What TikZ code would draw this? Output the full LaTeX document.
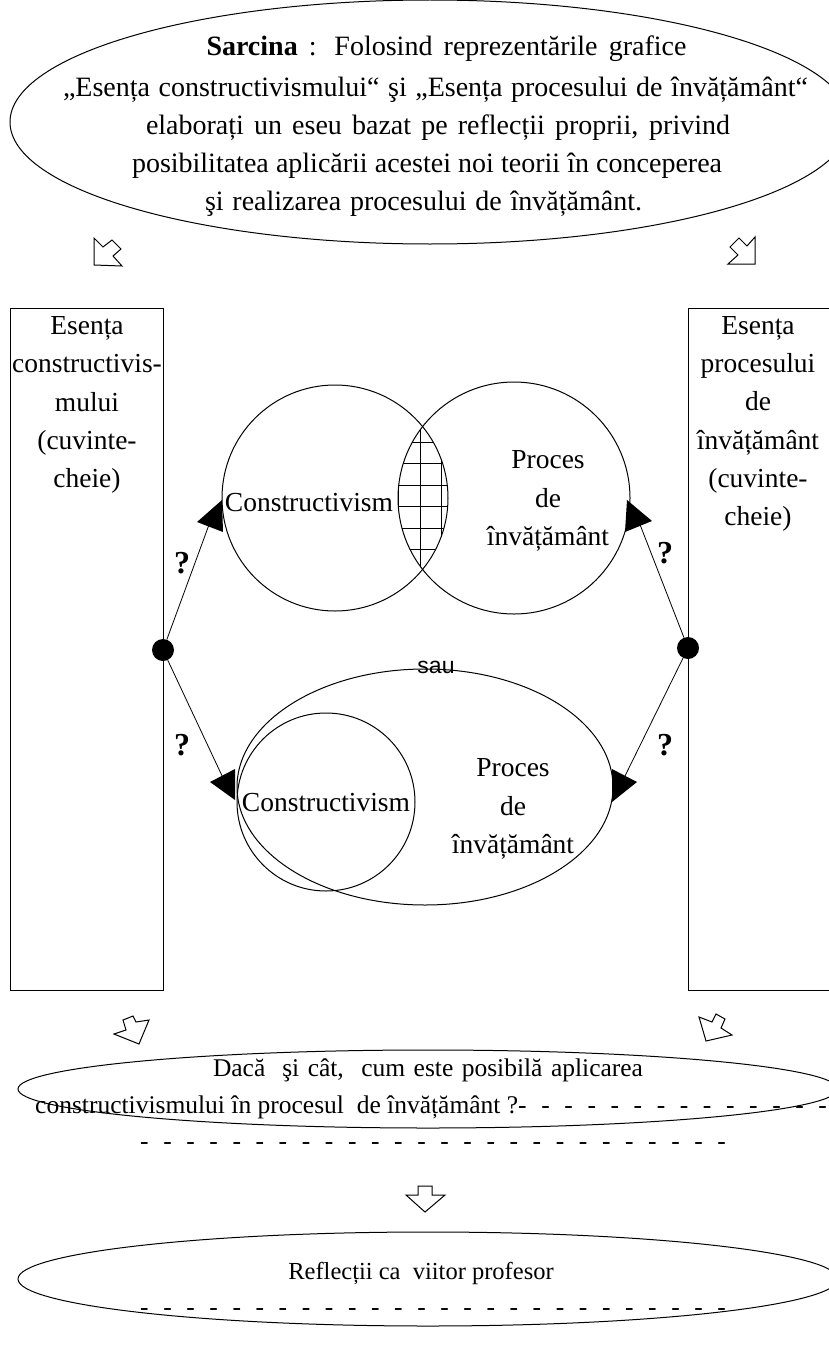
\documentclass[tikz,border=0pt]{standalone}
\usepackage{fontspec}
\setmainfont{Liberation Serif}
\newfontfamily\sansf{Liberation Sans}
\usetikzlibrary{shapes.geometric}
\newcommand\dd{-\hspace{14.6pt}}
\newcommand\fitline[2]{\makebox[#1][s]{#2}}
\begin{document}
\begin{tikzpicture}[x=1pt,y=-1pt,
 shp/.style={draw, line width=1pt, inner sep=0pt},
 ell/.style={shp, ellipse},
 txt/.style={font=\fontsize{27.5}{38.3}\selectfont, inner sep=0pt, align=center},
 ltxt/.style={font=\fontsize{25.5}{36}\selectfont, inner sep=0pt, anchor=base},
 ttxt/.style={font=\fontsize{28}{38}\selectfont, inner sep=0pt, anchor=base},
 holl/.style={line width=1pt, line join=miter, fill=white},
 qm/.style={font=\fontsize{32}{32}\selectfont\bfseries, inner sep=0pt},
 dotnode/.style={circle, fill=black, minimum size=22pt, inner sep=0pt},
 head/.style={fill=black},
 conn/.style={line width=0.8pt}]
\useasboundingbox (0,0) rectangle (829,1354);
\clip (0,0) rectangle (829,1354);

% top task ellipse
\node[ell, minimum width=840pt, minimum height=244pt] (task) at (430,122) {};
\node[ttxt] (t1) at (446.5,56) {\fitline{480pt}{\textbf{Sarcina} : Folosind reprezentările grafice}};
\node[ttxt] (t2) at (435.5,96) {\fitline{745pt}{„Esența constructivismului“ şi „Esența procesului de învățământ“}};
\node[ttxt] (t3) at (438,134) {\fitline{584pt}{elaborați un eseu bazat pe reflecții proprii, privind}};
\node[ttxt] (t4) at (427,172) {\fitline{590pt}{posibilitatea aplicării acestei noi teorii în conceperea}};
\node[ttxt] (t5) at (423.5,210) {\fitline{437pt}{şi realizarea procesului de învățământ.}};

% hollow arrows (top)
\draw[holl] (94,238) -- (103,247) -- (112,240) -- (121,249) -- (113,256) -- (122,266) -- (94,265) -- cycle;
\draw[holl] (755,237) -- (747,246) -- (739,238) -- (730,247) -- (738,255) -- (728,264) -- (755,264) -- cycle;

% side rectangles
\node[shp, minimum width=153pt, minimum height=682pt] (lrect) at (86.5,649) {};
\node[shp, minimum width=141pt, minimum height=682pt] (rrect) at (758.5,649) {};
\node[txt] (ltxt) at (87,405) {Esența\\constructivis-\\mului\\(cuvinte-\\cheie)};
\node[txt] (rtxt) at (758,424) {Esența\\procesului\\de\\învățământ\\(cuvinte-\\cheie)};

% upper Venn: intersecting circles
\begin{scope}
 \clip (335,498) circle (113pt);
 \clip (514,498) circle (116pt);
 \foreach \x in {398.5,420,441.5} \draw[line width=0.8pt] (\x,380) -- (\x,620);
 \foreach \y in {420.5,442,463.5,485,506.5,528,549.5,571} \draw[line width=0.8pt] (380,\y) -- (470,\y);
\end{scope}
\node[shp, circle, minimum size=226pt] (cl) at (335,498) {};
\node[shp, circle, minimum size=232pt] (cr) at (514,498) {};
\node[txt] (clt) at (309,503) {Constructivism};
\node[txt] (crt) at (548,501) {Proces\\de\\învățământ};

\node[font=\sansf\fontsize{23}{23}\selectfont, inner sep=0pt] (sau) at (436,667) {sau};

% lower Venn: nested
\node[ell, minimum width=376pt, minimum height=236pt] (outer) at (425,787) {};
\node[shp, circle, minimum size=178pt] (inner) at (326,802) {};
\node[txt] (innert) at (326,803) {Constructivism};
\node[txt] (outert) at (513,809) {Proces\\de\\învățământ};

% dots and connectors
\node[dotnode] (dl) at (163,650) {};
\node[dotnode] (dr) at (688,648) {};
\coordinate (a1) at (210,522);
\coordinate (a2) at (639,522);
\coordinate (a3) at (224,780);
\coordinate (a4) at (623,780);
\draw[conn] (dl) -- (a1);
\draw[conn] (dr) -- (a2);
\draw[conn] (dl) -- (a3);
\draw[conn] (dr) -- (a4);
\fill[head] (197,522) -- (222,500) -- (223,532) -- cycle;
\fill[head] (627,500) -- (652,521) -- (625,532) -- cycle;
\fill[head] (210,782) -- (235,769) -- (235,800) -- cycle;
\fill[head] (612,769) -- (637,782) -- (612,802) -- cycle;

\node[qm] (q1) at (182,563) {?};
\node[qm] (q2) at (182,745) {?};
\node[qm] (q3) at (665,553) {?};
\node[qm] (q4) at (665,745) {?};

% lower hollow arrows
\draw[holl] (123,1020) -- (133,1016) -- (136,1022) -- (149,1020) -- (139,1044) -- (114,1034) -- (126,1030) -- cycle;
\draw[holl] (699,1017) -- (712,1022) -- (716,1014) -- (725,1019) -- (721,1028) -- (732,1035) -- (706,1041) -- cycle;

% question ellipse
\node[ell, minimum width=820pt, minimum height=78pt] (qell) at (428,1089) {};
\node[ltxt] (ql1) at (428,1076) {\fitline{430pt}{Dacă \ şi cât, \ cum este posibilă aplicarea}};
\node[ltxt, anchor=base west] (ql2) at (35,1113) {constructivismului în procesul \ de învățământ ?\dd\dd\dd\dd\dd\dd\dd\dd\dd\dd\dd\dd\dd-};
\node[ltxt, anchor=base west] (ql3) at (140,1149) {\dd\dd\dd\dd\dd\dd\dd\dd\dd\dd\dd\dd\dd\dd\dd\dd\dd\dd\dd\dd\dd\dd\dd\dd\dd-};

\draw[holl] (418,1186) -- (432,1186) -- (432,1195) -- (445,1195) -- (425,1212) -- (406,1195) -- (418,1195) -- cycle;

% reflection ellipse
\node[ell, minimum width=820pt, minimum height=94pt] (rell) at (428,1279) {};
\node[ltxt, font=\fontsize{24.5}{36}\selectfont] (rl1) at (421,1279) {Reflecții ca \ viitor profesor};
\node[ltxt, anchor=base west] (rl2) at (140,1315) {\dd\dd\dd\dd\dd\dd\dd\dd\dd\dd\dd\dd\dd\dd\dd\dd\dd\dd\dd\dd\dd\dd\dd\dd\dd-};
\end{tikzpicture}
\end{document}
